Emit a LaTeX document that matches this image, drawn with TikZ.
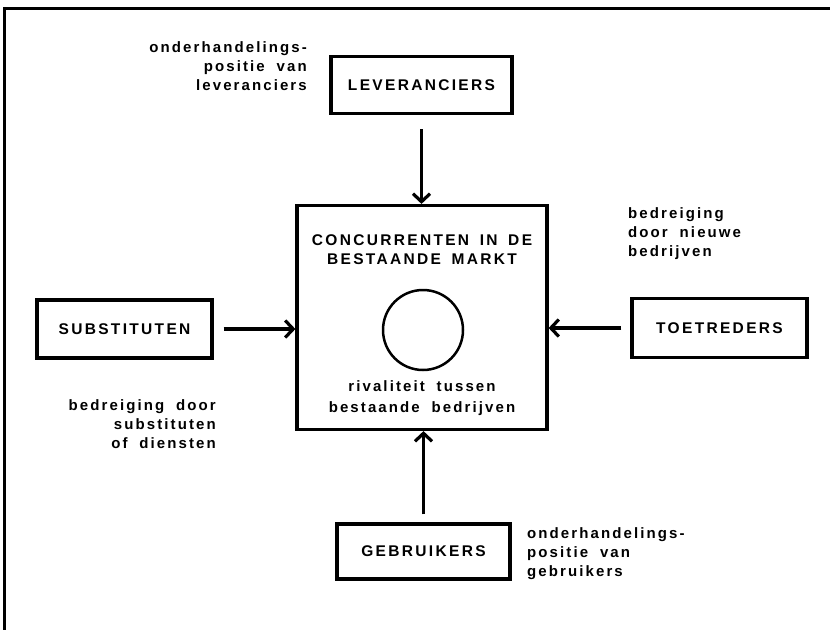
\documentclass[tikz,border=0pt]{standalone}
\usepackage{fontspec}
\setmainfont{Liberation Sans}
\newfontfamily\capfont{Liberation Sans Bold}[LetterSpace=15,WordSpace=1.6]
\newfontfamily\labfont{Liberation Sans Bold}[LetterSpace=14,WordSpace=1.9]
\usetikzlibrary{arrows.meta}
\begin{document}
\begin{tikzpicture}[x=1pt,y=-1pt,
  box/.style={draw,line width=3.2pt,inner sep=0pt,font=\capfont\fontsize{15.5}{19}\selectfont},
  lab/.style={inner sep=0pt,font=\labfont\fontsize{15}{19}\selectfont},
  arr/.style={line width=3.2pt,-{Straight Barb[length=8pt,width=17pt]}},
]
\useasboundingbox (0,0) rectangle (830,630);
\draw[line width=3pt] (830,8) -- (4,8) -- (4,630);

\node[box,minimum width=181pt,minimum height=57pt] (lev) at (421.5,85) {LEVERANCIERS};
\node[box,minimum width=250pt,minimum height=224pt] (ctr) at (422,317.5) {};
\node[box,minimum width=175pt,minimum height=58pt] (sub) at (124.5,329) {SUBSTITUTEN};
\node[box,minimum width=175pt,minimum height=59pt] (toe) at (719.5,328) {TOETREDERS};
\node[box,minimum width=173pt,minimum height=55pt] (geb) at (423.5,551.5) {GEBRUIKERS};

\node[draw,circle,line width=2.5pt,minimum size=80pt,inner sep=0pt] (circ) at (423,330) {};
\node[align=center,inner sep=0pt,font=\capfont\fontsize{15.5}{19}\selectfont] (ctitle) at (422,249.5) {CONCURRENTEN IN DE\\BESTAANDE MARKT};
\node[lab,align=center,font=\labfont\fontsize{15}{21}\selectfont] (criv) at (422,398) {rivaliteit tussen\\bestaande bedrijven};

\node[lab,align=right,anchor=east] (levlab) at (307,66.5) {onderhandelings-\\positie van\\leveranciers};
\node[lab,align=left,anchor=west] (toelab) at (628,234) {bedreiging\\door nieuwe\\bedrijven};
\node[lab,align=right,anchor=east] (sublab) at (216,424) {bedreiging door\\substituten\\of diensten};
\node[lab,align=left,anchor=west] (geblab) at (527,554) {onderhandelings-\\positie van\\gebruikers};

\draw[arr,shorten <=14pt] (lev.south) -- (ctr.north -| lev.south);
\draw[arr,shorten <=10pt] (sub.east) -- (sub.east -| ctr.west);
\draw[arr,shorten <=9pt] (toe.west) -- (toe.west -| ctr.east);
\draw[arr,shorten <=8pt] (geb.north) -- (ctr.south -| geb.north);
\end{tikzpicture}
\end{document}
